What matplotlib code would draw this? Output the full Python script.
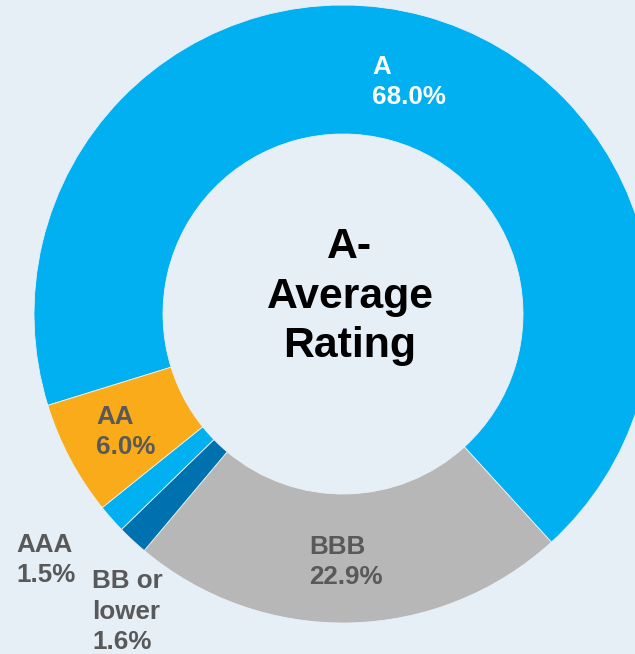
import matplotlib
matplotlib.use("Agg")
import matplotlib.pyplot as plt

# Data (clockwise from the A/AA boundary)
categories = ["A", "BBB", "BB or\nlower", "AAA", "AA"]
shares = [68.0, 22.9, 1.6, 1.5, 6.0]
colors = ["#00B0F0", "#B7B7B7", "#0071AF", "#00B0F0", "#FAAB1A"]
center_text = "A-\nAverage\nRating"

BG = "#E6EEF6"
GREY = "#595959"

plt.rcParams["font.family"] = ["Liberation Sans", "DejaVu Sans"]

fig = plt.figure(figsize=(6.35, 6.54), dpi=100, facecolor=BG)
ax = fig.add_axes([0, 0, 1, 1])
ax.set_facecolor(BG)

wedges, _ = ax.pie(
    shares,
    colors=colors,
    startangle=197.2,
    counterclock=False,
    radius=1.0,
    wedgeprops=dict(width=1.0 - 180 / 309, edgecolor="#EAF1F8", linewidth=0.6),
)

# pixel geometry: centre (343, 314), outer radius 309 px
CX, CY, R = 343.0, 314.0, 309.0
W, H = 635.0, 654.0
ax.set_xlim((0 - CX) / R, (W - CX) / R)
ax.set_ylim((CY - H) / R, (CY - 0) / R)
ax.set_aspect("auto")
ax.axis("off")


def px(x, y):
    return (x - CX) / R, (CY - y) / R


# slice labels: (left x px, last-line baseline y px, colour)
label_pos = [
    (372, 104, "white"),
    (309, 584, GREY),
    (92, 649, GREY),
    (16, 582, GREY),
    (96, 454, GREY),
]
for cat, val, (lx, ly, col) in zip(categories, shares, label_pos):
    x, y = px(lx, ly)
    ax.text(x, y, f"{cat}\n{val:.1f}%", ha="left", va="baseline",
            fontsize=18.7, fontweight="bold", color=col, linespacing=1.33)

x, y = px(350, 357)
ax.text(x, y, center_text, ha="center", va="baseline", multialignment="center",
        fontsize=30.8, fontweight="bold", color="black", linespacing=1.3)

fig.savefig("out.png", dpi=100, facecolor=BG)
